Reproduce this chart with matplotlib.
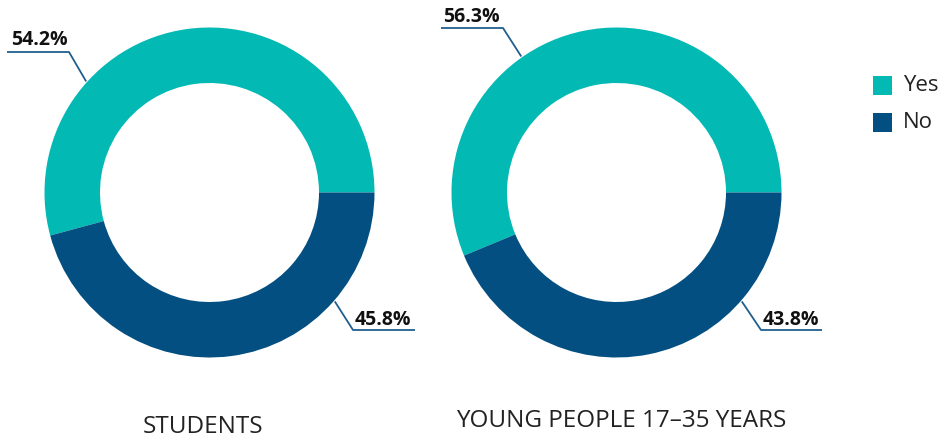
import matplotlib
matplotlib.use("Agg")
import matplotlib.pyplot as plt
from matplotlib.patches import Rectangle
import numpy as np

# Survey answers (percent)
categories = ["Yes", "No"]
groups = ["STUDENTS", "YOUNG PEOPLE 17\u201335 YEARS"]
yes_values = [54.2, 56.3]
no_values = [45.8, 43.8]

colors = ["#03B9B4", "#034F81"]
line_color = "#1F5F8F"

W, H = 943, 443
plt.rcParams["font.family"] = ["Open Sans", "DejaVu Sans"]

fig = plt.figure(figsize=(W / 100, H / 100), dpi=100)
ax = fig.add_axes([0, 0, 1, 1])


def Y(py):
    # pixel row -> data y (origin at bottom)
    return H - py


centers = [(209.5, 192.5), (616.5, 192.5)]
r_out, r_in = 165, 109.5

# leader layout per donut: (attach angle deg, elbow px, end px, text anchor px, text ha)
yes_leaders = [
    (138, (69, 52), (7, 52), (11, 45), "left"),
    (125, (503, 28), (441, 28), (443, 22), "left"),
]
no_leaders = [
    (-41, (353, 330), (415, 330), (411, 325), "right"),
    (-41, (761, 330), (822, 330), (819, 325), "right"),
]
title_pos = [(203.5, 427), (621, 421)]

for i, (cx, cy) in enumerate(centers):
    vals = [yes_values[i], no_values[i]]
    ax.pie(vals, colors=colors, startangle=0, counterclock=True,
           radius=r_out, center=(cx, Y(cy)),
           wedgeprops=dict(width=r_out - r_in, linewidth=0))

    for leader, val in ((yes_leaders[i], yes_values[i]), (no_leaders[i], no_values[i])):
        ang, elbow, end, tpos, ha = leader
        a = np.deg2rad(ang)
        sx = cx + (r_out + 1) * np.cos(a)
        sy = Y(cy) + (r_out + 1) * np.sin(a)
        ax.plot([sx, elbow[0], end[0]], [sy, Y(elbow[1]), Y(end[1])],
                color=line_color, lw=1.3, solid_capstyle="butt")
        ax.text(tpos[0], Y(tpos[1]), f"{val:.1f}%", ha=ha, va="baseline",
                fontsize=14, fontweight="bold", color="#111111")

    ax.text(title_pos[i][0], Y(title_pos[i][1]), groups[i], ha="center",
            va="center", fontsize=17.5, color="#222222")

# legend
leg_y = [85.5, 122.5]
for cat, col, ly in zip(categories, colors, leg_y):
    ax.add_patch(Rectangle((873, Y(ly) - 9.5), 19, 19, color=col, lw=0))
    ax.text(903, Y(ly), cat, ha="left", va="center", fontsize=16, color="#222222")

ax.set_xlim(0, W)
ax.set_ylim(0, H)
ax.set_aspect("equal")
ax.axis("off")

fig.savefig("out.png", dpi=100)
